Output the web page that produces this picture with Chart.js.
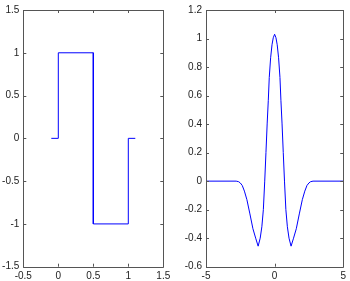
<!DOCTYPE html>
<html>
<head>
<meta charset="utf-8">
<script src="https://cdn.jsdelivr.net/npm/chart.js@4.4.1/dist/chart.umd.min.js"></script>
<style>
  html, body { margin: 0; padding: 0; background: #fff; }
  #wrap { position: relative; width: 350px; height: 281px; }
  canvas { position: absolute; top: 0; }
  #left { left: 0; }
  #right { left: 175px; }
</style>
</head>
<body>
<div id="wrap">
  <canvas id="left" width="175" height="281"></canvas>
  <canvas id="right" width="175" height="281"></canvas>
</div>
<script>
// Left panel: step function
const haarX = [-0.1, 0, 0, 0.5, 0.5, 1, 1, 1.1];
const haarY = [0, 0, 1, 1, -1, -1, 0, 0];

// Right panel: wavelet curve
const waveX = [-5, -2.8, -2.62, -2.5, -2.36, -2.2, -2.02, -1.8, -1.58, -1.38, -1.2, -1.05, -0.93, -0.82, -0.72,
               -0.63, -0.54, -0.46, -0.39, -0.29, -0.19, -0.1, 0,
               0.1, 0.19, 0.29, 0.39, 0.46, 0.54, 0.63,
               0.72, 0.82, 0.93, 1.05, 1.2, 1.38, 1.58, 1.8, 2.02, 2.2, 2.36, 2.5, 2.62, 2.8, 5];
const waveY = [0, 0, -0.004, -0.013, -0.03, -0.07, -0.13, -0.23, -0.334, -0.4, -0.456, -0.4, -0.32, -0.2, 0,
               0.201, 0.407, 0.567, 0.727, 0.865, 0.956, 1.005, 1.03,
               1.005, 0.956, 0.865, 0.727, 0.567, 0.407, 0.201,
               0, -0.2, -0.32, -0.4, -0.456, -0.4, -0.334, -0.23, -0.13, -0.07, -0.03, -0.013, -0.004, 0, 0];

// Axis ranges and tick steps
const leftXRange = [-0.5, 1.5], leftXStep = 0.5;
const leftYRange = [-1.5, 1.5], leftYStep = 0.5;
const rightXRange = [-5, 5], rightXStep = 5;
const rightYRange = [-0.6, 1.2], rightYStep = 0.2;

const FONT = { family: 'Liberation Sans, Arial, sans-serif', size: 10 };

// MATLAB-like tick text: 1 instead of 1.0
const fmt = (v) => String(+Number(v).toFixed(2));

// Draws the box and inward ticks on all four sides
const boxTicks = {
    id: 'boxTicks',
    afterDraw(chart) {
        const { ctx, chartArea: a, scales } = chart;
        ctx.save();
        ctx.strokeStyle = '#555';
        ctx.lineWidth = 1;
        ctx.beginPath();
        ctx.rect(Math.round(a.left) + 0.5, Math.round(a.top) + 0.5,
                 Math.round(a.right - a.left), Math.round(a.bottom - a.top));
        const len = 3;
        scales.x.ticks.forEach((t) => {
            const px = Math.round(scales.x.getPixelForValue(t.value)) + 0.5;
            ctx.moveTo(px, a.bottom); ctx.lineTo(px, a.bottom - len);
            ctx.moveTo(px, a.top); ctx.lineTo(px, a.top + len);
        });
        scales.y.ticks.forEach((t) => {
            const py = Math.round(scales.y.getPixelForValue(t.value)) + 0.5;
            ctx.moveTo(a.left, py); ctx.lineTo(a.left + len, py);
            ctx.moveTo(a.right, py); ctx.lineTo(a.right - len, py);
        });
        ctx.stroke();
        ctx.restore();
    }
};

function makeChart(id, xs, ys, xr, xStep, yr, yStep, yWidth, padRight) {
    const points = xs.map((x, i) => ({ x, y: ys[i] }));
    return new Chart(document.getElementById(id), {
        type: 'scatter',
        data: {
            datasets: [{
                data: points,
                showLine: true,
                borderColor: '#0000ff',
                borderWidth: 1,
                pointRadius: 0,
                tension: 0,
                fill: false,
            }],
        },
        options: {
            responsive: false,
            animation: false,
            events: [],
            layout: { padding: { top: 5, right: padRight, bottom: 0, left: 0 } },
            plugins: { legend: { display: false }, tooltip: { enabled: false } },
            scales: {
                x: {
                    type: 'linear',
                    min: xr[0], max: xr[1],
                    grid: { display: false, drawTicks: false },
                    border: { display: false },
                    ticks: { stepSize: xStep, font: FONT, color: '#222', padding: 4, maxRotation: 0, callback: fmt },
                    afterFit: (s) => { s.height = 14.3; },
                },
                y: {
                    type: 'linear',
                    min: yr[0], max: yr[1],
                    grid: { display: false, drawTicks: false },
                    border: { display: false },
                    ticks: { stepSize: yStep, font: FONT, color: '#222', padding: 4, callback: fmt },
                    afterFit: (s) => { s.width = yWidth; },
                },
            },
        },
        plugins: [boxTicks],
    });
}

makeChart('left', haarX, haarY, leftXRange, leftXStep, leftYRange, leftYStep, 23.3, 11.7);
makeChart('right', waveX, waveY, rightXRange, rightXStep, rightYRange, rightYStep, 31, 4);
</script>
</body>
</html>
